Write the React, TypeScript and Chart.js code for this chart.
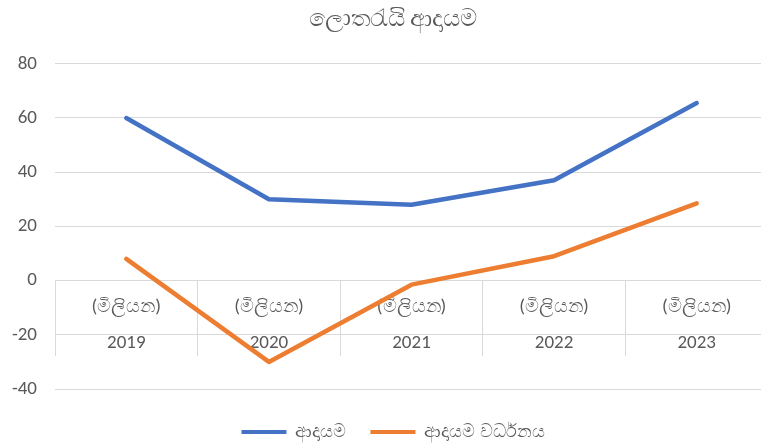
import React, { useEffect, useRef } from "react";
import { Chart, registerables } from "chart.js";

Chart.register(...registerables);

const TITLE = "ලොතරැයි ආදායම";
const YEARS = ["2019", "2020", "2021", "2022", "2023"];
const UNIT = "(මිලියන)";
const INCOME_LABEL = "ආදායම";
const GROWTH_LABEL = "ආදායම වර්ධනය";
const INCOME = [60, 30, 28, 37, 65.5];
const GROWTH = [8, -30, -1.5, 9, 28.5];
const Y_MIN = -40;
const Y_MAX = 80;
const Y_STEP = 20;

const FONT = 'Calibri, Carlito, "Liberation Sans", "Noto Sans", sans-serif';

export default function App() {
  const ref = useRef<HTMLCanvasElement | null>(null);

  useEffect(() => {
    if (!ref.current) return;
    const labels = YEARS.map((y) => [UNIT, y]);
    const chart = new Chart(ref.current, {
      type: "line",
      data: {
        labels,
        datasets: [
          {
            label: INCOME_LABEL,
            data: INCOME,
            borderColor: "#4472C4",
            backgroundColor: "#4472C4",
            borderWidth: 4.5,
            pointRadius: 0,
            borderCapStyle: "round",
            borderJoinStyle: "round",
            tension: 0,
          },
          {
            label: GROWTH_LABEL,
            data: GROWTH,
            borderColor: "#ED7D31",
            backgroundColor: "#ED7D31",
            borderWidth: 4.5,
            pointRadius: 0,
            borderCapStyle: "round",
            borderJoinStyle: "round",
            tension: 0,
          },
        ],
      },
      options: {
        responsive: false,
        animation: false,
        layout: { padding: { left: 0, right: 0, top: 0, bottom: -8 } },
        plugins: {
          title: {
            display: true,
            text: TITLE,
            color: "#595959",
            font: { family: FONT, size: 24, weight: "normal" },
            padding: { top: 6, bottom: 29 },
          },
          legend: {
            position: "bottom",
            title: {
              display: true,
              text: "",
              font: { size: 10, lineHeight: 1 },
              padding: 0,
            },
            labels: {
              color: "#595959",
              font: { family: FONT, size: 18 },
              boxWidth: 45,
              boxHeight: 4,
              padding: 24,
              generateLabels: (c: any) =>
                Chart.defaults.plugins.legend.labels
                  .generateLabels(c)
                  .map((l: any) => ({ ...l, lineWidth: 0 })),
            },
          },
          tooltip: { enabled: false },
        },
        scales: {
          x: {
            type: "category",
            position: { y: 0 } as any,
            offset: true,
            grid: {
              offset: true,
              drawOnChartArea: false,
              drawTicks: true,
              tickLength: 75,
              color: "#d9d9d9",
            },
            border: { display: true, color: "#d9d9d9" },
            ticks: {
              padding: -66,
              color: "#595959",
              font: { family: FONT, size: 19, lineHeight: 36 / 19 },
              maxRotation: 0,
              autoSkip: false,
            },
          },
          y: {
            min: Y_MIN,
            max: Y_MAX,
            ticks: {
              stepSize: Y_STEP,
              color: "#595959",
              font: { family: FONT, size: 19 },
              padding: 18,
            },
            grid: { color: "#d9d9d9", drawTicks: false },
            border: { display: false },
            afterFit: (s: any) => {
              s.width = 55;
            },
          },
          yRight: {
            type: "linear",
            position: "right",
            min: Y_MIN,
            max: Y_MAX,
            grid: { display: false, drawTicks: false },
            border: { display: false },
            ticks: { display: false },
            afterFit: (s: any) => {
              s.width = 18;
            },
          },
        },
      },
    });
    return () => chart.destroy();
  }, []);

  return (
    <div
      style={{
        position: "fixed",
        left: 0,
        top: 0,
        width: 761,
        height: 443,
        overflow: "hidden",
        background: "#ffffff",
      }}
    >
      <canvas ref={ref} width={786} height={443} style={{ display: "block" }} />
    </div>
  );
}
